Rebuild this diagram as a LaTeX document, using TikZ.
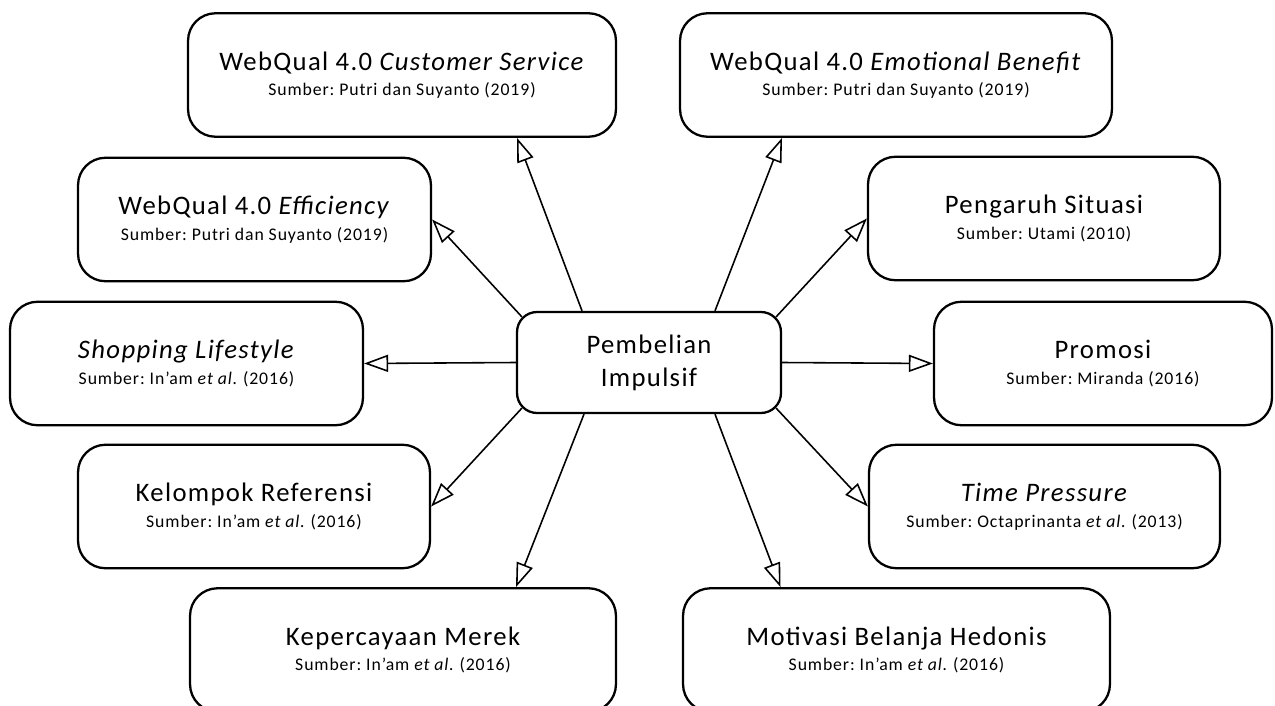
\documentclass[tikz,border=0pt]{standalone}
\usepackage{fontspec}
\setmainfont{Carlito}[LetterSpace=5]
\usepackage{tikz}
\usetikzlibrary{arrows.meta}
\newcommand{\ttl}[1]{{\fontsize{15.2}{18}\selectfont #1}}
\frenchspacing
\begin{document}
\begin{tikzpicture}[x=0.02cm, y=-0.02cm,
  box/.style = {draw, line width=1.3pt, rounded corners=0.55cm, minimum height=2.47cm, inner sep=0pt, align=center, font={\fontsize{10.1}{14.6}\selectfont}},
  core/.style = {draw, line width=1.3pt, rounded corners=0.4cm, minimum width=5.28cm, minimum height=2.02cm, align=center, font={\fontsize{15.2}{18.7}\selectfont}},
  arr/.style = {-{Triangle[open, length=0.48cm, width=0.34cm]}, line width=0.9pt}]
\useasboundingbox (0,0) rectangle (1275,706);
\clip (0,0) rectangle (1275,706);
\node[core] (pi) at (649,362.5) {Pembelian\\Impulsif};
\node[box, minimum width=8.56cm] (cs) at (402,75) {\ttl{WebQual 4.0 \textit{Customer Service}}\\Sumber: Putri dan Suyanto (2019)};
\node[box, minimum width=8.64cm] (eb) at (896,75) {\ttl{WebQual 4.0 \textit{Emotional Benefit}}\\Sumber: Putri dan Suyanto (2019)};
\node[box, minimum width=7.06cm] (eff) at (254.5,219.5) {\ttl{WebQual 4.0 \textit{Efficiency}}\\Sumber: Putri dan Suyanto (2019)};
\node[box, minimum width=7.04cm] (ps) at (1044,218.5) {\ttl{Pengaruh Situasi}\\Sumber: Utami (2010)};
\node[box, minimum width=7.06cm] (sl) at (186.5,363.5) {\ttl{\textit{Shopping Lifestyle}}\\Sumber: In’am \textit{et al.} (2016)};
\node[box, minimum width=6.76cm] (pr) at (1103,363.5) {\ttl{Promosi}\\Sumber: Miranda (2016)};
\node[box, minimum width=7.04cm] (kr) at (254,506.5) {\ttl{Kelompok Referensi}\\Sumber: In’am \textit{et al.} (2016)};
\node[box, minimum width=7.02cm] (tp) at (1044.5,506.5) {\ttl{\textit{Time Pressure}}\\Sumber: Octaprinanta \textit{et al.} (2013)};
\node[box, minimum width=8.52cm] (km) at (403,650) {\ttl{Kepercayaan Merek}\\Sumber: In’am \textit{et al.} (2016)};
\node[box, minimum width=8.54cm] (mb) at (896.5,650) {\ttl{Motivasi Belanja Hedonis}\\Sumber: In’am \textit{et al.} (2016)};
\draw[arr] ([xshift=-1.34cm]pi.north) -- ([xshift=2.3cm]cs.south);
\draw[arr] ([xshift=1.32cm]pi.north) -- ([xshift=-2.28cm]eb.south);
\draw[arr] ([shift={(0.12cm,-0.12cm)}]pi.north west) -- (eff.east);
\draw[arr] ([shift={(-0.12cm,-0.12cm)}]pi.north east) -- (ps.west);
\draw[arr] (pi.west) -- (sl.east);
\draw[arr] (pi.east) -- (pr.west);
\draw[arr] ([shift={(0.12cm,0.12cm)}]pi.south west) -- (kr.east);
\draw[arr] ([shift={(-0.12cm,0.12cm)}]pi.south east) -- (tp.west);
\draw[arr] ([xshift=-1.3cm]pi.south) -- ([xshift=2.26cm]km.north);
\draw[arr] ([xshift=1.32cm]pi.south) -- ([xshift=-2.32cm]mb.north);
\end{tikzpicture}
\end{document}
